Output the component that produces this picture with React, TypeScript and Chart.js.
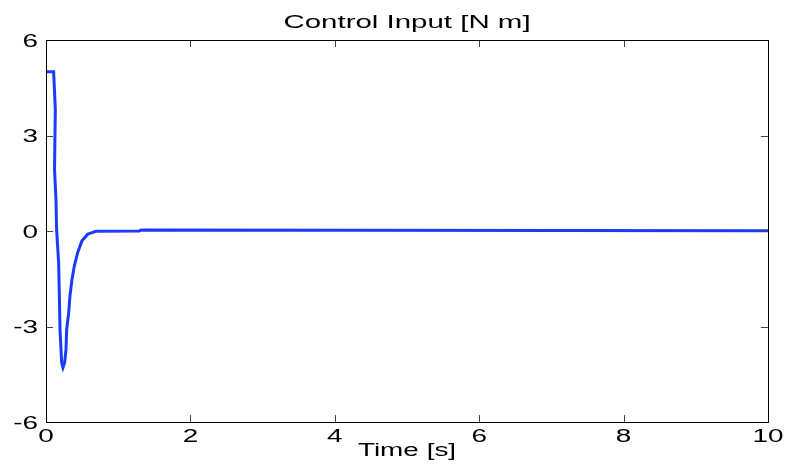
import React, { useEffect, useRef } from "react";
import { Chart, registerables } from "chart.js";

Chart.register(...registerables);

const TITLE = "Control Input [N m]";
const X_LABEL = "Time [s]";

const timeS = [0, 0.106, 0.129, 0.118, 0.138, 0.147, 0.175, 0.184, 0.194, 0.217, 0.235, 0.258, 0.277, 0.286, 0.314, 0.332, 0.36, 0.392, 0.438, 0.498, 0.577, 0.692, 1.29, 1.316, 10];
const torqueNm = [5, 5, 3.82, 1.94, 1.0, 0.05, -1.0, -1.94, -3.09, -4.14, -4.29, -4.14, -3.72, -3.09, -2.57, -2.04, -1.52, -1.1, -0.68, -0.31, -0.1, -0.01, 0, 0.03, 0.01];

const xTicks = [0, 2, 4, 6, 8, 10];
const yTicks = [-6, -3, 0, 3, 6];

const FONT = '"Liberation Sans", Arial, Helvetica, sans-serif';
const SX = 1.55;

function stretchedText(ctx: CanvasRenderingContext2D, text: string, x: number, y: number, align: CanvasTextAlign, size: number) {
  ctx.save();
  ctx.font = `${size}px ${FONT}`;
  ctx.fillStyle = "#000";
  ctx.textBaseline = "alphabetic";
  ctx.translate(x, y);
  ctx.scale(SX, 1);
  ctx.textAlign = align;
  ctx.fillText(text, 0, 0);
  ctx.restore();
}

const framePlugin = {
  id: "matlabFrame",
  afterDraw(chart: any) {
    const { ctx, chartArea: a, scales } = chart;
    const xs = scales.x;
    const ys = scales.y;
    const L = 7;
    ctx.save();
    ctx.strokeStyle = "#444";
    ctx.lineWidth = 1;
    ctx.beginPath();
    xs.ticks.forEach((t: any) => {
      const px = Math.round(xs.getPixelForValue(t.value)) + 0.5;
      ctx.moveTo(px, a.bottom);
      ctx.lineTo(px, a.bottom - L);
      ctx.moveTo(px, a.top);
      ctx.lineTo(px, a.top + L);
    });
    ys.ticks.forEach((t: any) => {
      const py = Math.round(ys.getPixelForValue(t.value)) + 0.5;
      ctx.moveTo(a.left, py);
      ctx.lineTo(a.left + L, py);
      ctx.moveTo(a.right, py);
      ctx.lineTo(a.right - L, py);
    });
    ctx.stroke();
    ctx.strokeStyle = "#000";
    ctx.strokeRect(Math.round(a.left) + 0.5, Math.round(a.top) + 0.5, Math.round(a.right - a.left), Math.round(a.bottom - a.top));
    ctx.restore();

    xs.ticks.forEach((t: any) => {
      stretchedText(ctx, String(t.value), xs.getPixelForValue(t.value), a.bottom + 19.5, "center", 18);
    });
    ys.ticks.forEach((t: any) => {
      stretchedText(ctx, String(t.value), a.left - 8, ys.getPixelForValue(t.value) + 6.5, "right", 18);
    });
    const cx = (a.left + a.right) / 2;
    stretchedText(ctx, TITLE, cx, 27.5, "center", 19);
    stretchedText(ctx, X_LABEL, cx, 456, "center", 18);
  },
};

export default function App() {
  const ref = useRef<HTMLCanvasElement | null>(null);
  useEffect(() => {
    if (!ref.current) return;
    const chart = new Chart(ref.current, {
      type: "line",
      data: {
        datasets: [
          {
            data: timeS.map((t, i) => ({ x: t, y: torqueNm[i] })),
            borderColor: "#1a3aff",
            borderWidth: 3,
            pointRadius: 0,
            tension: 0,
            fill: false,
          },
        ],
      },
      options: {
        animation: false,
        responsive: false,
        maintainAspectRatio: false,
        devicePixelRatio: 1,
        layout: { padding: { top: 40, right: 17, left: 0, bottom: 0 } },
        plugins: { legend: { display: false }, title: { display: false }, tooltip: { enabled: false } },
        scales: {
          x: {
            type: "linear",
            min: 0,
            max: 10,
            grid: { display: false },
            border: { display: false },
            ticks: { display: false },
            afterBuildTicks: (s: any) => {
              s.ticks = xTicks.map((v) => ({ value: v }));
            },
            afterFit: (s: any) => {
              s.height = 42;
            },
          },
          y: {
            type: "linear",
            min: -6,
            max: 6,
            grid: { display: false },
            border: { display: false },
            ticks: { display: false },
            afterBuildTicks: (s: any) => {
              s.ticks = yTicks.map((v) => ({ value: v }));
            },
            afterFit: (s: any) => {
              s.width = 46;
            },
          },
        },
      },
      plugins: [framePlugin],
    });
    return () => chart.destroy();
  }, []);
  return (
    <div style={{ position: "fixed", left: 0, top: 0, width: 785, height: 464, background: "#fff" }}>
      <canvas ref={ref} width={785} height={464} style={{ width: 785, height: 464, display: "block" }} />
    </div>
  );
}
